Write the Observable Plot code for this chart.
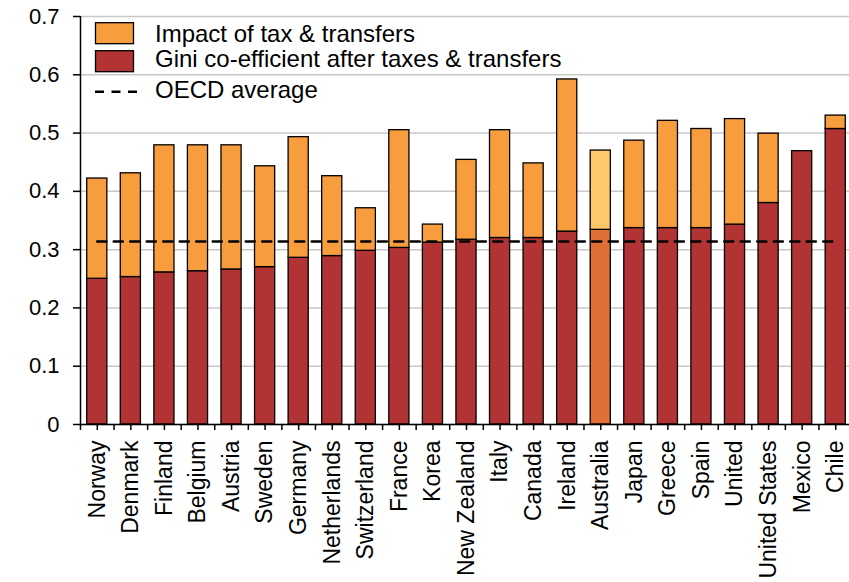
<!DOCTYPE html>
<html><head><meta charset="utf-8">
<script src="https://cdn.jsdelivr.net/npm/d3@7"></script>
<script src="https://cdn.jsdelivr.net/npm/@observablehq/plot@0.6"></script>
<style>
body{margin:0;background:#fff;}
#wrap{position:relative;width:849px;height:582px;overflow:hidden;}
#wrap svg{display:block;}
#legend{position:absolute;left:0;top:0;}
</style></head><body><div id="wrap"></div>
<script>
const countries = ["Norway","Denmark","Finland","Belgium","Austria","Sweden","Germany","Netherlands","Switzerland","France","Korea","New Zealand","Italy","Canada","Ireland","Australia","Japan","Greece","Spain","United","United States","Mexico","Chile"];
const giniAfter  = [0.250,0.253,0.261,0.263,0.266,0.270,0.286,0.289,0.298,0.303,0.312,0.317,0.320,0.320,0.331,0.334,0.337,0.337,0.337,0.343,0.380,0.469,0.507];
const giniBefore = [0.422,0.431,0.479,0.479,0.479,0.443,0.493,0.426,0.371,0.505,0.343,0.454,0.505,0.448,0.592,0.470,0.487,0.521,0.507,0.524,0.499,0.469,0.530];
const oecdAverage = 0.314;
const yTicks = [0,0.1,0.2,0.3,0.4,0.5,0.6,0.7];
const legendLabels = ["Impact of tax & transfers","Gini co-efficient after taxes & transfers","OECD average"];
const highlight = "Australia";

const colImpact = "#F89D3E", colGini = "#B13333", colImpactHi = "#FDC96A", colGiniHi = "#E06F35";
const font = "Arial, 'Liberation Sans', sans-serif";

const rows = countries.map((c,i)=>({country:c, after:giniAfter[i], before:giniBefore[i]}));
const oecdLine = [countries[0], countries[countries.length-1]].map(c=>({country:c, v:oecdAverage}));
const step = (852 - 80) / countries.length;

const plot = Plot.plot({
  width: 849, height: 582,
  marginTop: 16, marginBottom: 158, marginLeft: 80, marginRight: 0,
  style: {fontFamily: font, fontSize: "22px", color: "#000", background: "#fff"},
  x: {domain: countries, range: [80, 852], paddingInner: 0.4, paddingOuter: 0.2, round: false, label: null},
  y: {domain: [0, 0.7], label: null},
  marks: [
    Plot.gridY(yTicks, {stroke: "#c8c8c8", strokeOpacity: 1, strokeWidth: 1.5}),
    Plot.barY(rows, {x: "country", y1: 0, y2: "after",
      fill: d => d.country === highlight ? colGiniHi : colGini, stroke: "#000", strokeWidth: 1.3}),
    Plot.barY(rows.filter(d => d.before > d.after), {x: "country", y1: "after", y2: "before",
      fill: d => d.country === highlight ? colImpactHi : colImpact, stroke: "#000", strokeWidth: 1.3}),
    Plot.lineY(oecdLine, {x: "country", y: "v", stroke: "#000", strokeWidth: 2.6, strokeDasharray: "9,7.5"}),
    Plot.axisY(yTicks, {tickSize: 7, tickPadding: 14, tickFormat: d => d === 0 ? "0" : d3.format(".1f")(d), fontSize: 22, strokeWidth: 1.5}),
    Plot.ruleX([countries[0]], {y1: 0, y2: 0.7, dx: -step/2, stroke: "#000", strokeWidth: 1.5}),
    Plot.ruleY([0], {stroke: "#000", strokeWidth: 1.5}),
    Plot.axisX({tickSize: 6, tickRotate: -90, tickPadding: 10, fontSize: 23, strokeWidth: 1.5}),
    Plot.axisX({tickSize: 6, tickFormat: null, dx: -step/2, strokeWidth: 1.5}),
    Plot.axisX([countries[countries.length-1]], {tickSize: 6, tickFormat: null, dx: step/2, strokeWidth: 1.5})
  ]
});
const wrap = document.getElementById("wrap");
wrap.appendChild(plot);

// legend overlay
const lg = d3.select(wrap).append("svg").attr("id","legend").attr("width",849).attr("height",120)
  .style("font-family", font);
const swatches = [colImpact, colGini];
swatches.forEach((c,i)=>{
  lg.append("rect").attr("x",95.5).attr("y",[22.7,50.7][i]).attr("width",38).attr("height",21)
    .attr("fill",c).attr("stroke","#000").attr("stroke-width",1.3);
});
lg.append("line").attr("x1",95).attr("x2",138).attr("y1",91.7).attr("y2",91.7)
  .attr("stroke","#000").attr("stroke-width",2.6).attr("stroke-dasharray","9,7.5");
legendLabels.forEach((t,i)=>{
  lg.append("text").attr("x",155).attr("y",[41.5,66.5,97.5][i]).attr("font-size",24).attr("fill","#000").text(t);
});
</script></body></html>
